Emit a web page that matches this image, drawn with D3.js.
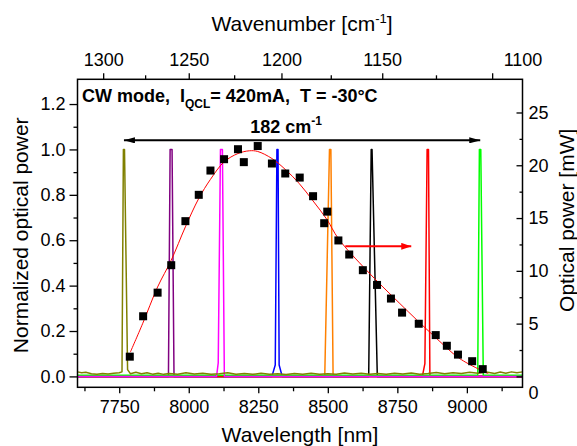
<!DOCTYPE html>
<html>
<head>
<meta charset="utf-8">
<script src="https://cdn.jsdelivr.net/npm/d3@7"></script>
<style>
  body { margin: 0; background: #fff; }
  text { font-family: "Liberation Sans", Arial, sans-serif; }
</style>
</head>
<body>
<div id="chart"></div>
<script>
// measured power points (normalized)
var powerLambda = [7788, 7836, 7888, 7937, 7988, 8036, 8078, 8127, 8177, 8198, 8248, 8299, 8347, 8399, 8447, 8498, 8487,
                   8538, 8577, 8626, 8677, 8727, 8767, 8827, 8888, 8928, 8968, 9019, 9057];
var powerNorm = [0.087, 0.265, 0.369, 0.49, 0.684, 0.80, 0.907, 0.957, 1.001, 0.944, 1.015, 0.938, 0.894, 0.876, 0.794, 0.726, 0.675,
                 0.599, 0.537, 0.468, 0.403, 0.343, 0.281, 0.232, 0.182, 0.135, 0.096, 0.067, 0.032];

// fit curve
var fitLambda = [7790, 7834, 7888, 7937, 7988, 8036, 8078, 8127, 8177, 8218, 8248, 8299, 8347, 8397, 8447, 8497, 8538, 8639, 8759, 8879, 8975, 9077];
var fitNorm = [0.107, 0.232, 0.394, 0.512, 0.659, 0.784, 0.868, 0.945, 0.982, 0.994, 0.991, 0.960, 0.912, 0.850, 0.773, 0.691, 0.607, 0.468, 0.321, 0.181, 0.078, 0.012];

// spectra: [wavelength, normalized intensity]
var specPurple = [[7600, 0], [7927, 0], [7933, 1.0], [7940, 1.0], [7947, 0], [9200, 0]];
var specMagenta = [[7600, 0], [8100, 0], [8106, 0.06], [8114, 1.0], [8121, 1.0], [8128, 0], [9200, 0]];
var specBlue = [[7600, 0], [8299, 0], [8311, 0.05], [8317, 1.0], [8321, 1.0], [8325, 0.05], [8336, 0], [9200, 0]];
var specOrange = [[7600, 0], [8489, 0], [8506, 1.0], [8511, 1.0], [8519, 0], [9200, 0]];
var specBlack = [[7600, 0], [8647, 0], [8656, 1.0], [8659, 1.0], [8678, 0], [9200, 0]];
var specRed = [[7600, 0], [8840, 0], [8849, 0.056], [8857, 1.0], [8862, 1.0], [8867, 0], [9200, 0]];
var specGreen = [[7600, 0.005], [9039, 0.005], [9045, 1.0], [9050, 1.0], [9059, 0.005], [9200, 0.005]];
var specOlive = [[7600, 0.020], [7615, 0.016], [7630, 0.018], [7650, 0.012], [7670, 0.010], [7690, 0.013], [7710, 0.011],
                 [7730, 0.014], [7750, 0.016], [7760, 0.02], [7765, 1.0], [7769, 1.0], [7780, 0.03], [7790, 0.012],
                 [7810, 0.018], [7830, 0.012], [7850, 0.016], [7870, 0.010], [7890, 0.014], [7910, 0.009], [7930, 0.013],
                 [7960, 0.010], [7990, 0.016], [8020, 0.011], [8050, 0.014], [8080, 0.009], [8110, 0.012], [8140, 0.016],
                 [8170, 0.010], [8200, 0.013], [8230, 0.009], [8260, 0.014], [8290, 0.010], [8320, 0.012], [8350, 0.008],
                 [8380, 0.013], [8410, 0.010], [8440, 0.014], [8470, 0.009], [8500, 0.012], [8530, 0.010], [8560, 0.015],
                 [8590, 0.011], [8620, 0.014], [8650, 0.010], [8680, 0.013], [8710, 0.009], [8740, 0.014], [8770, 0.011],
                 [8800, 0.015], [8830, 0.010], [8860, 0.013], [8890, 0.017], [8920, 0.012], [8950, 0.016], [8980, 0.013],
                 [9010, 0.018], [9040, 0.014], [9070, 0.019], [9100, 0.013], [9120, 0.019], [9140, 0.014], [9160, 0.020],
                 [9180, 0.016], [9200, 0.020]];

var spanArrow = [7767, 9048], spanY = 1.04;
var powerArrow = [8563, 8800], powerY = 0.573;

var bottomTicks = [7750, 8000, 8250, 8500, 8750, 9000];
var bottomMinor = [7625, 7875, 8125, 8375, 8625, 8875, 9125];
var topTicks = [1300, 1250, 1200, 1150, 1100];
var topMinor = [1275, 1225, 1175, 1125];
var leftTicks = [0, 0.2, 0.4, 0.6, 0.8, 1.0, 1.2];
var leftMinor = [0.1, 0.3, 0.5, 0.7, 0.9, 1.1];
var rightTicks = [0, 5, 10, 15, 20, 25];
var rightMinor = [2.5, 7.5, 12.5, 17.5, 22.5];
var mWPerUnit = 21.5;

var W = 577, H = 446;
var L = 77.5, R = 522.5, T = 79.3, B = 387.3;

var svg = d3.select("#chart").append("svg")
    .attr("width", W).attr("height", H);

var x = d3.scaleLinear().domain([7600, 9200]).range([L, R]);
var xTop = d3.scalePow().exponent(-1).domain([1e7 / 7600, 1e7 / 9200]).range([L, R]);
var y = d3.scaleLinear().domain([-0.048, 1.309]).range([B, T]);
var yR = d3.scaleLinear().domain([-0.048 * mWPerUnit, 1.309 * mWPerUnit]).range([B, T]);

var defs = svg.append("defs");
defs.append("clipPath").attr("id", "clip")
  .append("rect").attr("x", L).attr("y", T).attr("width", R - L).attr("height", B - T);
function head(id, color, len, hw) {
  defs.append("marker").attr("id", id)
      .attr("markerUnits", "userSpaceOnUse")
      .attr("viewBox", "0 0 " + len + " " + (2 * hw))
      .attr("refX", len).attr("refY", hw)
      .attr("markerWidth", len).attr("markerHeight", 2 * hw)
      .attr("orient", "auto-start-reverse")
    .append("path")
      .attr("d", "M0,0L" + len + "," + hw + "L0," + (2 * hw) + "Z")
      .attr("fill", color);
}
head("hk", "#000", 11, 3);
head("hr", "#ff0000", 10, 3.5);

var plot = svg.append("g").attr("clip-path", "url(#clip)");
var line = d3.line().x(function(d) { return x(d[0]); }).y(function(d) { return y(d[1]); });

var spectra = [
  [specPurple, "#800080"], [specBlue, "#0000ff"], [specOrange, "#ff8000"], [specBlack, "#000000"],
  [specRed, "#ff0000"], [specGreen, "#00ff00"], [specMagenta, "#ff00ff"], [specOlive, "#808000"]
];
spectra.forEach(function(s) {
  plot.append("path")
      .attr("d", line(s[0]))
      .attr("fill", "none")
      .attr("stroke", s[1])
      .attr("stroke-width", 1.5)
      .attr("stroke-linejoin", "round");
});

// fit
var fit = fitLambda.map(function(l, i) { return [l, fitNorm[i]]; });
plot.append("path")
    .attr("d", line.curve(d3.curveCatmullRom)(fit))
    .attr("fill", "none")
    .attr("stroke", "#ff0000")
    .attr("stroke-width", 1);

// measured points
var pts = powerLambda.map(function(l, i) { return [l, powerNorm[i]]; });
plot.selectAll("rect.pt")
    .data(pts)
    .enter()
    .append("rect")
      .attr("class", "pt")
      .attr("x", function(d) { return x(d[0]) - 4; })
      .attr("y", function(d) { return y(d[1]) - 4; })
      .attr("width", 8).attr("height", 8)
      .attr("fill", "#000");

// arrows
svg.append("line")
    .attr("x1", x(spanArrow[0])).attr("x2", x(spanArrow[1]))
    .attr("y1", y(spanY)).attr("y2", y(spanY))
    .attr("stroke", "#000").attr("stroke-width", 2)
    .attr("marker-start", "url(#hk)").attr("marker-end", "url(#hk)");
svg.append("line")
    .attr("x1", x(powerArrow[0])).attr("x2", x(powerArrow[1]))
    .attr("y1", y(powerY)).attr("y2", y(powerY))
    .attr("stroke", "#ff0000").attr("stroke-width", 2)
    .attr("marker-end", "url(#hr)");

// axes
function styleAxis(g) {
  g.select(".domain").remove();
  g.selectAll("line").attr("stroke", "#000").attr("stroke-width", 1.3);
  g.selectAll("text").style("font-size", "18px").attr("fill", "#000");
}
svg.append("g").attr("transform", "translate(0," + B + ")")
    .call(d3.axisBottom(x).tickValues(bottomTicks).tickSize(6).tickPadding(7).tickFormat(d3.format("d")))
    .call(styleAxis);
svg.append("g").attr("transform", "translate(0," + B + ")")
    .call(d3.axisBottom(x).tickValues(bottomMinor).tickSize(4).tickFormat(""))
    .call(styleAxis);
var topAx = svg.append("g").attr("transform", "translate(0," + T + ")")
    .call(d3.axisTop(xTop).tickValues(topTicks).tickSize(6).tickPadding(7).tickFormat(d3.format("d")))
    .call(styleAxis);
topAx.selectAll(".tick").filter(function(d) { return d === 1100; })
    .select("text").attr("x", R - xTop(1100));
svg.append("g").attr("transform", "translate(0," + T + ")")
    .call(d3.axisTop(xTop).tickValues(topMinor).tickSize(4).tickFormat(""))
    .call(styleAxis);
svg.append("g").attr("transform", "translate(" + L + ",0)")
    .call(d3.axisLeft(y).tickValues(leftTicks).tickSize(8).tickPadding(4).tickFormat(d3.format(".1f")))
    .call(styleAxis);
svg.append("g").attr("transform", "translate(" + L + ",0)")
    .call(d3.axisLeft(y).tickValues(leftMinor).tickSize(4).tickFormat(""))
    .call(styleAxis);
var rightAx = svg.append("g").attr("transform", "translate(" + R + ",0)")
    .call(d3.axisRight(yR).tickValues(rightTicks).tickSize(-6).tickPadding(6).tickFormat(d3.format("d")))
    .call(styleAxis);
rightAx.selectAll(".tick text")
    .filter(function(d) { return d === 0; })
    .attr("y", 16);
svg.append("g").attr("transform", "translate(" + R + ",0)")
    .call(d3.axisRight(yR).tickValues(rightMinor).tickSize(-3).tickFormat(""))
    .call(styleAxis);

// frame
svg.append("rect")
    .attr("x", L).attr("y", T).attr("width", R - L).attr("height", B - T)
    .attr("fill", "none").attr("stroke", "#000").attr("stroke-width", 1.5);

// axis titles
svg.append("text")
    .attr("x", (L + R) / 2).attr("y", 442)
    .attr("text-anchor", "middle").style("font-size", "21px")
    .text("Wavelength [nm]");
var tt = svg.append("text")
    .attr("x", (L + R) / 2 + 2).attr("y", 31)
    .attr("text-anchor", "middle").style("font-size", "21px");
tt.append("tspan").text("Wavenumber [cm");
tt.append("tspan").attr("dy", -8).style("font-size", "13px").text("-1");
tt.append("tspan").attr("dy", 8).text("]");
svg.append("text")
    .attr("transform", "translate(28," + ((T + B) / 2 + 2) + ") rotate(-90)")
    .attr("text-anchor", "middle").style("font-size", "21px")
    .text("Normalized optical power");
svg.append("text")
    .attr("transform", "translate(574," + ((T + B) / 2 - 13) + ") rotate(-90)")
    .attr("text-anchor", "middle").style("font-size", "21px")
    .text("Optical power [mW]");

// annotations
var ann = svg.append("text")
    .attr("x", 82).attr("y", 102)
    .style("font-size", "18px").style("font-weight", "bold");
ann.append("tspan").text("CW mode,\u00a0\u00a0I");
ann.append("tspan").attr("dy", 6).style("font-size", "12px").text("QCL");
ann.append("tspan").attr("dy", -6).text("= 420mA,\u00a0\u00a0T = -30°C");

var lab = svg.append("text")
    .attr("x", 286).attr("y", 133)
    .attr("text-anchor", "middle")
    .style("font-size", "18px").style("font-weight", "bold");
lab.append("tspan").text("182 cm");
lab.append("tspan").attr("dy", -8).style("font-size", "12px").text("-1");
</script>
</body>
</html>
